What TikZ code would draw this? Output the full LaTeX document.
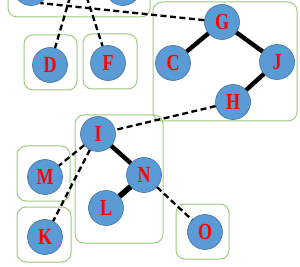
\documentclass[tikz,border=0pt]{standalone}
\usepackage{fontspec}
\setmainfont{Liberation Serif}
\newfontfamily\vfont[FakeStretch=0.78]{Liberation Serif}
\definecolor{nodefill}{HTML}{5B9BD5}
\definecolor{nodeedge}{HTML}{41719C}
\definecolor{boxgreen}{HTML}{9CCB7C}
\definecolor{lettered}{HTML}{FF0000}
\begin{document}
\begin{tikzpicture}[x=1pt,y=-1pt,
  vert/.style={circle,minimum size=35pt,inner sep=0pt,fill=nodefill,draw=nodeedge,line width=0.6pt,
    text=lettered,font=\vfont\bfseries\fontsize{23}{23}\selectfont},
  grp/.style={draw=boxgreen,line width=1pt,rounded corners=9pt},
  tree/.style={line width=4.4pt},
  link/.style={line width=2.3pt,dash pattern=on 6pt off 3.5pt}]
\useasboundingbox (0,0) rectangle (300,267);
\clip (0,0) rectangle (300,267);
% group boxes
\draw[grp] (8,-30) rectangle (150,17);
\draw[grp] (24,35) rectangle (77,90);
\draw[grp] (83,34) rectangle (137,89);
\draw[grp] (153,2) rectangle (297,121);
\draw[grp] (75,115) rectangle (163,243);
\draw[grp] (17,146) rectangle (70,201);
\draw[grp] (17,207) rectangle (71,262);
\draw[grp] (176,204) rectangle (229,259);
% nodes
\node[vert] (n1) at (31,-12) {};
\node[vert] (n2) at (123,-12) {};
\coordinate (p) at (78,-30);
\node[vert] (D) at (50,65) {D};
\node[vert] (F) at (108,63) {F};
\node[vert] (G) at (222,22) {G};
\node[vert] (C) at (173,63) {C};
\node[vert] (J) at (277,62) {J};
\node[vert] (H) at (233,102) {H};
\node[vert] (I) at (98,134) {I};
\node[vert] (N) at (144,175) {N};
\node[vert] (L) at (106,208) {L};
\node[vert] (M) at (45,177) {M};
\node[vert] (K) at (45,237) {K};
\node[vert] (O) at (205,232) {O};
% tree edges
\draw[tree] (G) -- (C);
\draw[tree] (G) -- (J);
\draw[tree] (J) -- (H);
\draw[tree] (I) -- (N);
\draw[tree,line width=5.6pt] (N) -- (L);
% dashed links
\draw[link] (G) -- (n1.-58);
\draw[link] (p) -- (D);
\draw[link] (p) -- (F);
\draw[link] (H) -- (I);
\draw[link] (I) -- (M);
\draw[link] (I) -- (K);
\draw[link] (N) -- (O);
\end{tikzpicture}
\end{document}
